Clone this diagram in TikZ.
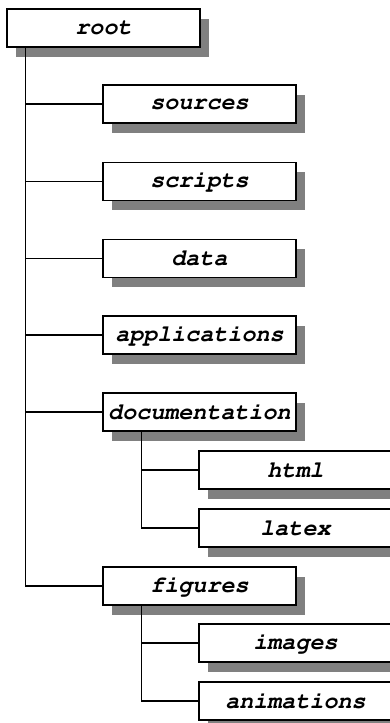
\documentclass[tikz,border=0pt]{standalone}
\usepackage[T1]{fontenc}
\usepackage{courier}
\usetikzlibrary{shadows}
\tikzset{
  folder/.style={draw, fill=white, line width=0.6pt, minimum width=96.5pt, minimum height=19pt, inner sep=0pt,
    font=\fontsize{11.7}{14}\selectfont\ttfamily\bfseries\slshape,
    drop shadow={shadow xshift=4.25pt, shadow yshift=-4.75pt, fill=black!50, opacity=1}},
  branch/.style={line width=0.55pt}
}
\begin{document}
\begin{tikzpicture}[x=0.5pt,y=-0.5pt]
        \useasboundingbox (0,0) rectangle (390,723);

        \node[folder] (root) at (103.5,28) {root}; %root
        \node[folder] (sources) at (199.5,104) {sources}; %sources
        \node[folder] (scripts) at (199.5,181.5) {scripts}; %scripts
        \node[folder] (data) at (199.5,258.5) {data}; %data
        \node[folder] (applications) at (199.5,335) {applications}; %applications
        \node[folder] (documentation) at (199.5,412) {documentation}; %documentation
        \node[folder] (html) at (295.5,470) {html}; %html
        \node[folder] (latex) at (295.5,528) {latex}; %latex
        \node[folder] (figures) at (199.5,586) {figures}; %figures
        \node[folder] (images) at (295.5,643) {images}; %images
        \node[folder] (animations) at (295.5,701) {animations}; %animations

        \draw[branch] (root.south west) ++(19,0) |- (sources.west);
        \draw[branch] (root.south west) ++(19,0) |- (scripts.west);
        \draw[branch] (root.south west) ++(19,0) |- (data.west);
        \draw[branch] (root.south west) ++(19,0) |- (applications.west);
        \draw[branch] (root.south west) ++(19,0) |- (documentation.west);
        \draw[branch] (root.south west) ++(19,0) |- (figures.west);

        \draw[branch] (documentation.south west) ++(39,0) |- (html.west);
        \draw[branch] (documentation.south west) ++(39,0) |- (latex.west);
        \draw[branch] (figures.south west) ++(39,0) |- (images.west);
        \draw[branch] (figures.south west) ++(39,0) |- (animations.west);
    \end{tikzpicture}
\end{document}
